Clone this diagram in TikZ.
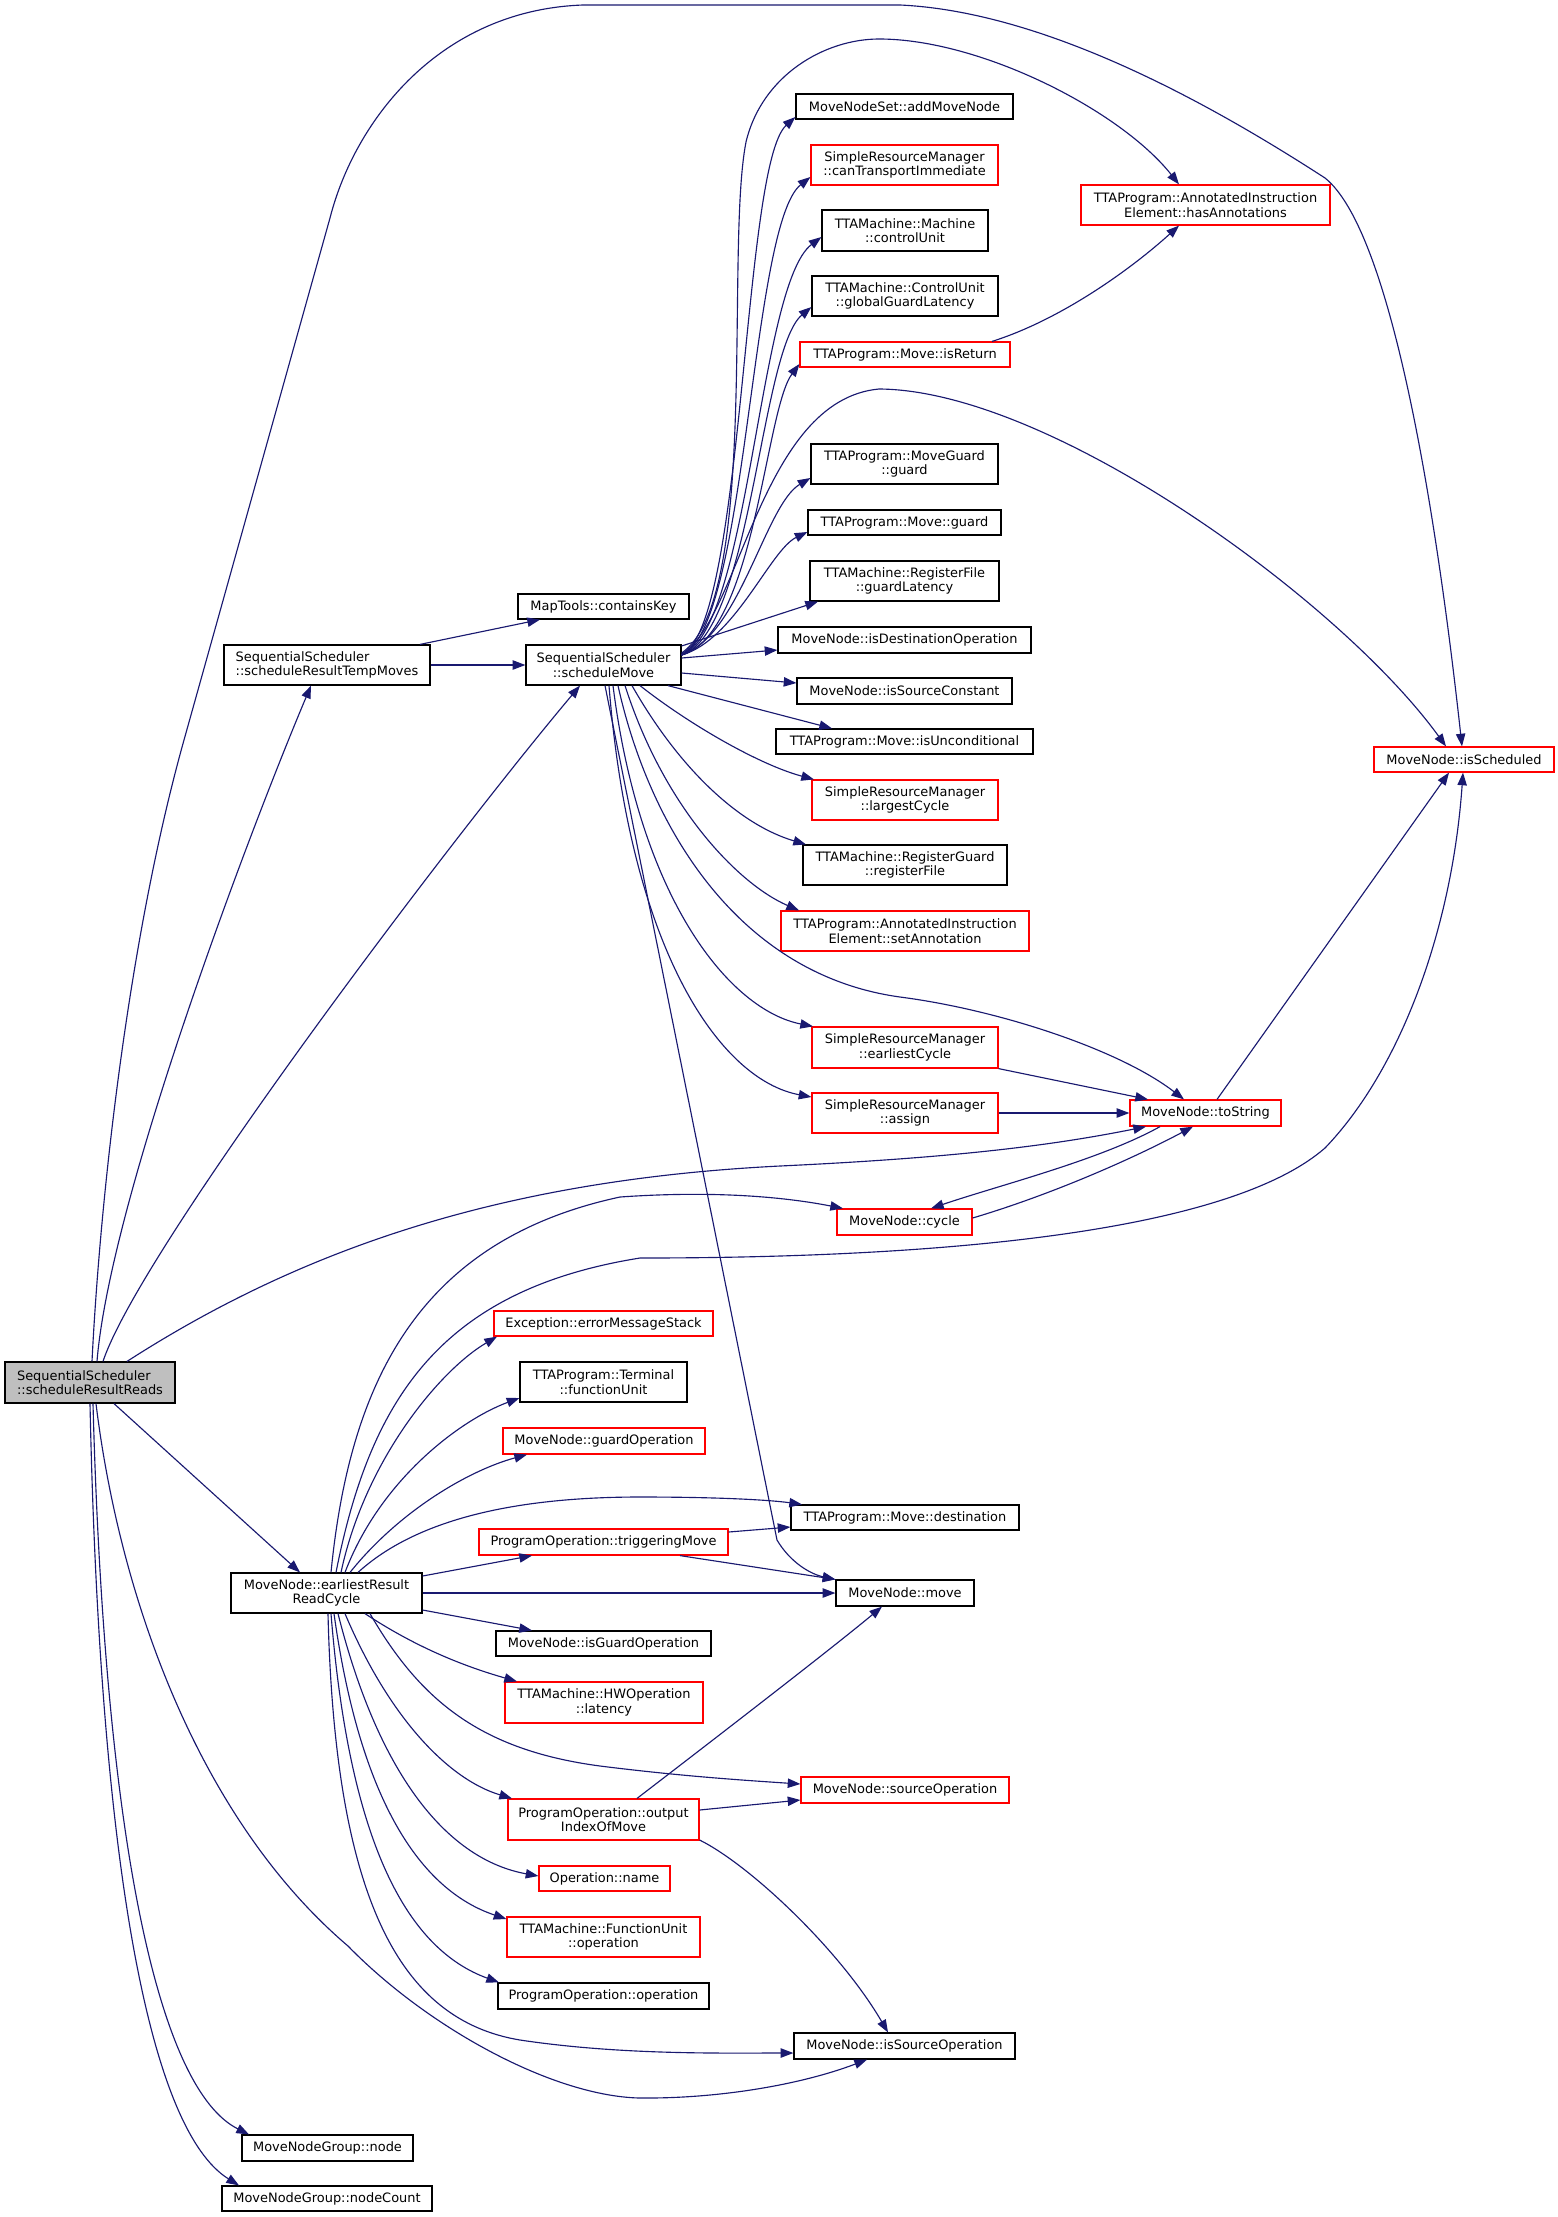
\documentclass[tikz,border=0pt]{standalone}
\usepackage{fontspec}
\setmainfont{DejaVu Sans}
\usetikzlibrary{arrows.meta}
\definecolor{edgecol}{HTML}{191970}
\definecolor{rootfill}{HTML}{BFBFBF}
\newcommand\nodefont{\fontsize{9.7pt}{10.8pt}\selectfont}
\def\u{0.75pt}
\tikzset{
  box/.style={draw=black, fill=white, line width=0.9pt, inner sep=0pt, align=center, font=\nodefont},
  rbox/.style={box, draw=red},
  rootbox/.style={box, fill=rootfill},
  cg/.style={draw=edgecol, line width=0.85pt, -{Triangle[length=9.5pt,width=7pt]}},
}
\begin{document}
\begin{tikzpicture}[x=0.75pt, y=-0.75pt]
\fill[white] (0,0) rectangle (1557,2217);
\useasboundingbox (0,0) rectangle (1557,2217);

% ---------- nodes ----------
\node[rootbox, align=left, minimum width=170*\u, minimum height=41*\u] (R) at (90,1382.5) {SequentialScheduler\\::scheduleResultReads};
\node[box, align=left, minimum width=206*\u, minimum height=40*\u] (T) at (327,665) {SequentialScheduler\\::scheduleResultTempMoves};
\node[box, minimum width=171*\u, minimum height=25*\u] (CK) at (603.5,606.5) {MapTools::containsKey};
\node[box, minimum width=155*\u, minimum height=40*\u] (S) at (603.5,665) {SequentialScheduler\\::scheduleMove};

\node[box, minimum width=217*\u, minimum height=25*\u] (AMN) at (904.5,106.5) {MoveNodeSet::addMoveNode};
\node[rbox, minimum width=187*\u, minimum height=40*\u] (CTI) at (904.5,165) {SimpleResourceManager\\::canTransportImmediate};
\node[box, minimum width=166*\u, minimum height=41*\u] (CU) at (905,230.5) {TTAMachine::Machine\\::controlUnit};
\node[box, minimum width=186*\u, minimum height=40*\u] (GGL) at (905,296) {TTAMachine::ControlUnit\\::globalGuardLatency};
\node[rbox, minimum width=210*\u, minimum height=25*\u] (IR) at (905,354.5) {TTAProgram::Move::isReturn};
\node[rbox, minimum width=249*\u, minimum height=40*\u] (HA) at (1205.5,205) {TTAProgram::AnnotatedInstruction\\Element::hasAnnotations};
\node[box, minimum width=187*\u, minimum height=40*\u] (MGG) at (904.5,464) {TTAProgram::MoveGuard\\::guard};
\node[box, minimum width=193*\u, minimum height=25*\u] (MG) at (904.5,522.5) {TTAProgram::Move::guard};
\node[box, minimum width=189*\u, minimum height=40*\u] (RFGL) at (904.5,581) {TTAMachine::RegisterFile\\::guardLatency};
\node[box, minimum width=253*\u, minimum height=26*\u] (IDO) at (904.5,640) {MoveNode::isDestinationOperation};
\node[box, minimum width=215*\u, minimum height=26*\u] (ISC) at (904.5,691) {MoveNode::isSourceConstant};
\node[box, minimum width=257*\u, minimum height=25*\u] (IU) at (904.5,741.5) {TTAProgram::Move::isUnconditional};
\node[rbox, minimum width=186*\u, minimum height=40*\u] (LC) at (905,800) {SimpleResourceManager\\::largestCycle};
\node[box, minimum width=204*\u, minimum height=40*\u] (RGRF) at (905,865) {TTAMachine::RegisterGuard\\::registerFile};
\node[rbox, minimum width=248*\u, minimum height=40*\u] (SA) at (905,931) {TTAProgram::AnnotatedInstruction\\Element::setAnnotation};
\node[rbox, minimum width=186*\u, minimum height=41*\u] (EC) at (905,1047.5) {SimpleResourceManager\\::earliestCycle};
\node[rbox, minimum width=186*\u, minimum height=40*\u] (AS) at (905,1113) {SimpleResourceManager\\::assign};
\node[rbox, minimum width=151*\u, minimum height=26*\u] (TS) at (1205.5,1113) {MoveNode::toString};
\node[rbox, minimum width=135*\u, minimum height=26*\u] (CY) at (904.5,1222) {MoveNode::cycle};
\node[rbox, minimum width=180*\u, minimum height=25*\u] (ISS) at (1464,759.5) {MoveNode::isScheduled};

\node[rbox, minimum width=219*\u, minimum height=25*\u] (EMS) at (603.5,1323.5) {Exception::errorMessageStack};
\node[box, minimum width=167*\u, minimum height=40*\u] (TFU) at (603.5,1382) {TTAProgram::Terminal\\::functionUnit};
\node[rbox, minimum width=202*\u, minimum height=26*\u] (GO) at (604,1441) {MoveNode::guardOperation};
\node[rbox, minimum width=249*\u, minimum height=26*\u] (TM) at (603.5,1542) {ProgramOperation::triggeringMove};
\node[box, minimum width=191*\u, minimum height=40*\u] (E) at (326.5,1593) {MoveNode::earliestResult\\ReadCycle};
\node[box, minimum width=215*\u, minimum height=25*\u] (IGO) at (603.5,1643.5) {MoveNode::isGuardOperation};
\node[rbox, minimum width=198*\u, minimum height=41*\u] (LAT) at (604,1702.5) {TTAMachine::HWOperation\\::latency};
\node[rbox, minimum width=191*\u, minimum height=41*\u] (O) at (603.5,1819.5) {ProgramOperation::output\\IndexOfMove};
\node[rbox, minimum width=131*\u, minimum height=25*\u] (ON) at (604.5,1878.5) {Operation::name};
\node[rbox, minimum width=193*\u, minimum height=40*\u] (FUO) at (603.5,1937) {TTAMachine::FunctionUnit\\::operation};
\node[box, minimum width=211*\u, minimum height=26*\u] (PO) at (603.5,1996) {ProgramOperation::operation};
\node[box, minimum width=171*\u, minimum height=26*\u] (MNG) at (327.5,2148) {MoveNodeGroup::node};
\node[box, minimum width=210*\u, minimum height=25*\u] (MNGC) at (327,2198.5) {MoveNodeGroup::nodeCount};
\node[box, minimum width=228*\u, minimum height=25*\u] (DST) at (905,1517.5) {TTAProgram::Move::destination};
\node[box, minimum width=138*\u, minimum height=26*\u] (MV) at (905,1593) {MoveNode::move};
\node[rbox, minimum width=208*\u, minimum height=26*\u] (SO) at (905,1790) {MoveNode::sourceOperation};
\node[box, minimum width=221*\u, minimum height=26*\u] (ISO) at (904.5,2046) {MoveNode::isSourceOperation};

% ---------- edges from scheduleResultReads ----------
\draw[cg] (R.north -| 92,0) .. controls (100,1200) and (128,940) .. (184,740)
  -- (330,218)
  .. controls (355,120) and (440,10) .. (583,5) -- (900,5)
  .. controls (1050,12) and (1220,110) .. (1325,178)
  .. controls (1390,230) and (1435,500) .. (ISS.north -| 1462,0);
\draw[cg] (R.north -| 97,0) .. controls (110,1200) and (250,830) .. (T.south -| 311,0);
\draw[cg] (R.north -| 103,0) .. controls (140,1250) and (450,840) .. (S.south -| 580,0);
\draw[cg] (R.north -| 127,0) .. controls (300,1250) and (500,1180) .. (780,1166)
  .. controls (950,1158) and (1050,1146) .. (TS.south -| 1146,0);
\draw[cg] (R.south -| 114,0) -- (E.north -| 300,0);
\draw[cg] (R.south -| 96,0) .. controls (120,1600) and (200,1820) .. (348,1946)
  .. controls (430,2030) and (560,2100) .. (647,2098)
  .. controls (720,2098) and (800,2085) .. (ISO.south -| 867,0);
\draw[cg] (R.south -| 93,0) .. controls (105,1850) and (160,2090) .. (MNG.north -| 249,0);
\draw[cg] (R.south -| 90,0) .. controls (100,1870) and (150,2130) .. (MNGC.north -| 239,0);

% ---------- edges from scheduleResultTempMoves ----------
\draw[cg] (T.north -| 420,0) -- (CK.south -| 540,0);
\draw[cg] (T.east) -- (S.west);

% ---------- edges from scheduleMove ----------
\draw[cg] (S.east |- 0,655) .. controls (745,625) and (742,165) .. (AMN.west |- 0,117);
\draw[cg] (S.east |- 0,655) .. controls (748,628) and (750,225) .. (CTI.west |- 0,177);
\draw[cg] (S.east |- 0,655) .. controls (750,630) and (758,285) .. (CU.west |- 0,237);
\draw[cg] (S.east |- 0,655) .. controls (752,632) and (760,350) .. (GGL.west |- 0,307);
\draw[cg] (S.east |- 0,655) .. controls (755,634) and (765,410) .. (IR.west |- 0,364);
\draw[cg] (S.east |- 0,655) .. controls (740,636) and (765,505) .. (MGG.west |- 0,478);
\draw[cg] (S.east |- 0,655) .. controls (735,640) and (770,550) .. (MG.west |- 0,532);
\draw[cg] (S.east |- 0,653) .. controls (760,600) and (725,250) .. (746,142)
  .. controls (762,75) and (825,39) .. (879,39)
  .. controls (980,39) and (1120,110) .. (HA.north -| 1179,0);
\draw[cg] (S.east |- 0,654) .. controls (740,620) and (760,400) .. (879,389)
  .. controls (1050,390) and (1340,600) .. (ISS.north -| 1446,0);
\draw[cg] (S.east |- 0,646) -- (RFGL.south -| 818,0);
\draw[cg] (S.east |- 0,658) -- (IDO.west |- 0,650);
\draw[cg] (S.east |- 0,673) -- (ISC.west |- 0,683);
\draw[cg] (S.south -| 668,0) -- (IU.north -| 832,0);
\draw[cg] (S.south -| 640,0) .. controls (690,725) and (760,765) .. (LC.north -| 814,0);
\draw[cg] (S.south -| 632,0) .. controls (680,770) and (740,825) .. (RGRF.north -| 806,0);
\draw[cg] (S.south -| 625,0) .. controls (665,810) and (740,885) .. (SA.north -| 799,0);
\draw[cg] (S.south -| 618,0) .. controls (650,830) and (740,975) .. (900,997)
  .. controls (1000,1010) and (1120,1050) .. (TS.north -| 1184,0);
\draw[cg] (S.south -| 613,0) .. controls (640,900) and (730,1010) .. (EC.north -| 813,0);
\draw[cg] (S.south -| 609,0) .. controls (630,950) and (720,1080) .. (AS.west |- 0,1097);
\draw[cg] (S.south -| 605,0) -- (777,1540) .. controls (790,1562) and (810,1574) .. (MV.north west);

% ---------- other upper edges ----------
\draw[cg] (IR.north -| 992,0) .. controls (1060,320) and (1130,270) .. (HA.south -| 1179,0);
\draw[cg] (TS.north -| 1217,0) -- (ISS.south -| 1449,0);
\draw[cg] (EC.south east) -- (TS.north -| 1148,0);
\draw[cg] (AS.east) -- (TS.west);
\draw[cg] (TS.south -| 1160,0) .. controls (1100,1160) and (1000,1185) .. (CY.north -| 931,0);
\draw[cg] (CY.east |- 0,1218) .. controls (1050,1195) and (1130,1160) .. (TS.south -| 1193,0);

% ---------- edges from earliestResultReadCycle ----------
\draw[cg] (E.north -| 331,0) .. controls (350,1380) and (420,1240) .. (620,1197)
  .. controls (720,1190) and (790,1198) .. (CY.north -| 843,0);
\draw[cg] (E.north -| 336,0) .. controls (370,1400) and (440,1290) .. (640,1258)
  .. controls (1000,1258) and (1240,1222) .. (1325,1148)
  .. controls (1400,1070) and (1452,930) .. (ISS.south -| 1463,0);
\draw[cg] (E.north -| 341,0) .. controls (365,1460) and (440,1370) .. (EMS.south -| 497,0);
\draw[cg] (E.north -| 345,0) .. controls (380,1480) and (460,1420) .. (TFU.west |- 0,1398);
\draw[cg] (E.north -| 350,0) .. controls (400,1510) and (470,1470) .. (GO.south -| 527,0);
\draw[cg] (E.north -| 358,0) .. controls (410,1525) and (500,1497) .. (640,1497)
  .. controls (720,1497) and (770,1500) .. (DST.north -| 802,0);
\draw[cg] (E.east |- 0,1576) -- (TM.south -| 532,0);
\draw[cg] (E.east |- 0,1593) -- (MV.west |- 0,1593);
\draw[cg] (E.east |- 0,1610) -- (IGO.north -| 532,0);
\draw[cg] (E.south -| 365,0) .. controls (420,1650) and (470,1668) .. (LAT.north -| 517,0);
\draw[cg] (E.south -| 370,0) .. controls (420,1700) and (480,1750) .. (600,1766)
  .. controls (680,1776) and (740,1780) .. (SO.west |- 0,1784);
\draw[cg] (E.south -| 345,0) .. controls (390,1720) and (450,1780) .. (O.north -| 512,0);
\draw[cg] (E.south -| 338,0) .. controls (380,1780) and (450,1860) .. (ON.west |- 0,1876);
\draw[cg] (E.south -| 334,0) .. controls (360,1800) and (420,1890) .. (FUO.west |- 0,1919);
\draw[cg] (E.south -| 331,0) .. controls (350,1850) and (410,1950) .. (PO.north -| 499,0);
\draw[cg] (E.south -| 328,0) .. controls (335,1900) and (400,2020) .. (520,2040)
  .. controls (620,2055) and (720,2053) .. (ISO.west |- 0,2053);

% ---------- remaining ----------
\draw[cg] (O.north -| 637,0) .. controls (700,1750) and (830,1650) .. (MV.south -| 882,0);
\draw[cg] (O.east |- 0,1810) -- (SO.west |- 0,1800);
\draw[cg] (O.east |- 0,1840) .. controls (750,1865) and (840,1950) .. (ISO.north -| 888,0);
\draw[cg] (TM.east |- 0,1532) -- (DST.west |- 0,1527);
\draw[cg] (TM.south -| 680,0) -- (MV.north west);
\end{tikzpicture}
\end{document}
